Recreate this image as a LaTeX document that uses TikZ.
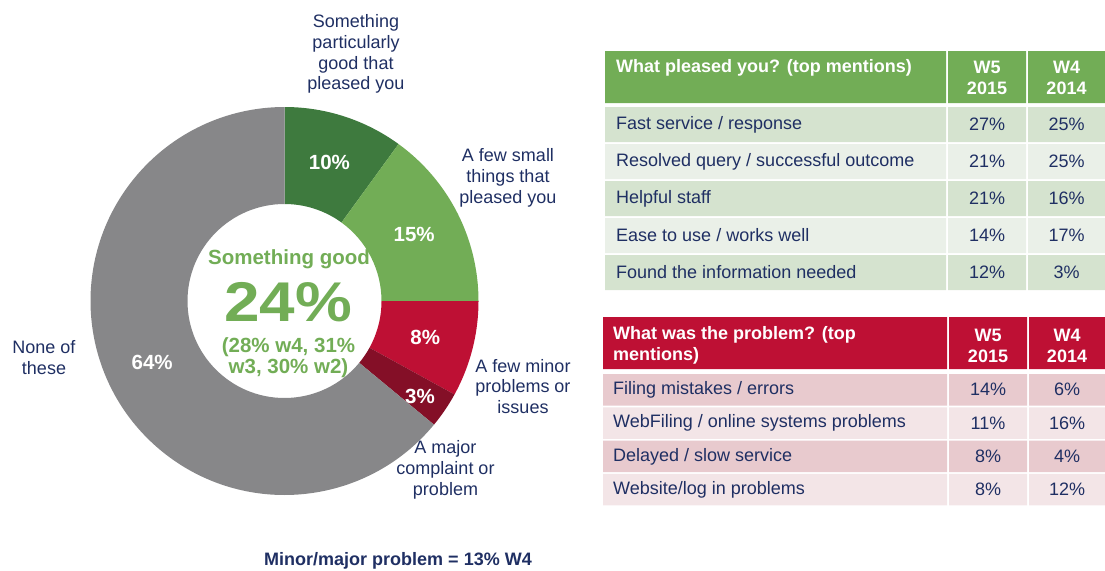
\documentclass[tikz,border=0pt]{standalone}
\usepackage{fontspec}
\setmainfont{Liberation Sans}
\newfontfamily\widefont[FakeStretch=1.14]{Liberation Sans}
\definecolor{navy}{RGB}{31,47,99}
\definecolor{gdark}{RGB}{62,122,62}
\definecolor{glight}{RGB}{114,173,86}
\definecolor{rlight}{RGB}{190,16,52}
\definecolor{rdark}{RGB}{132,15,39}
\definecolor{greyslice}{RGB}{135,135,137}
\definecolor{grow1}{RGB}{213,227,207}
\definecolor{grow2}{RGB}{234,240,232}
\definecolor{rrow1}{RGB}{232,202,206}
\definecolor{rrow2}{RGB}{243,229,231}
\begin{document}
\begin{tikzpicture}[x=1pt,y=-1pt,
    lbl/.style={text=navy,font=\fontsize{18}{20.8}\selectfont,align=center,inner sep=0pt},
    pct/.style={text=white,font=\bfseries\fontsize{20.5}{21}\selectfont,inner sep=0pt},
    good/.style={text=glight,font=\bfseries\fontsize{20.5}{21}\selectfont,align=center,inner sep=0pt},
    cell/.style={text=navy,font=\fontsize{18}{21}\selectfont,inner sep=0pt},
    head/.style={text=white,font=\bfseries\fontsize{18}{21}\selectfont,align=center,inner sep=0pt}]
\useasboundingbox (0,0) rectangle (1105,570);
\coordinate (c) at (284.5,301);
% donut slices, clockwise from the top
\foreach \a/\b/\col in {90/54/gdark, 54/0/glight, 0/-28.8/rlight, -28.8/-39.6/rdark, -39.6/-270/greyslice}
  \fill[\col] ([shift={(\a:194pt)}]c) arc[start angle=\a, end angle=\b, radius=194pt]
    -- ([shift={(\b:97pt)}]c) arc[start angle=\b, end angle=\a, radius=97pt] -- cycle;
\node[pct] (p10) at ([shift={(72:145.5pt)}]c) {10\%};
\node[pct] (p15) at ([shift={(27:145.5pt)}]c) {15\%};
\node[pct] (p8) at ([shift={(-14.6:145.5pt)}]c) {8\%};
\node[pct] (p3) at ([shift={(-35.3:166pt)}]c) {3\%};
\node[pct] (p64) at ([shift={(205:146pt)}]c) {64\%};
% centre text
\node[good] (sg) at (289,259) {Something good};
\node[good,font=\widefont\bfseries\fontsize{56}{60}\selectfont] (sgv) at (288,302) {24\%};
\node[good] (sgw) at (288.5,357.5) {(28\% w4, 31\%\\w3, 30\% w2)};
% slice labels
\node[lbl] (gd) at (356,54) {Something\\particularly\\good that\\pleased you};
\node[lbl] (gs) at (508,178) {A few small\\things that\\pleased you};
\node[lbl] (pm) at (523,386.5) {A few minor\\problems or\\issues};
\node[lbl] (pj) at (445.5,470) {A major\\complaint or\\problem};
\node[lbl] (pn) at (44,357.5) {None of\\these};
\node[lbl,font=\bfseries\fontsize{18}{21}\selectfont] (mm) at (398,560.5) {Minor/major problem = 13\% W4};
% table: what pleased you
\fill[glight] (605,51) rectangle (946,103) (948,51) rectangle (1026,103) (1028,51) rectangle (1105,103);
\node[head,anchor=west] (ph) at (616,68) {What pleased you? (top mentions)};
\node[head] (ph5) at (987,77.5) {W5\\2015};
\node[head] (ph4) at (1066.5,77.5) {W4\\2014};
\foreach \txt/\va/\vb [count=\i] in {{Fast service / response}/27/25,
    {Resolved query / successful outcome}/21/25, {Helpful staff}/21/16,
    {Ease to use / works well}/14/17, {Found the information needed}/12/3}{
  \ifodd\i\relax\def\rowcol{grow1}\else\def\rowcol{grow2}\fi
  \pgfmathsetmacro\rowtop{107+37*(\i-1)}
  \fill[\rowcol] (605,\rowtop) rectangle (946,\rowtop+35) (948,\rowtop) rectangle (1026,\rowtop+35)
    (1028,\rowtop) rectangle (1105,\rowtop+35);
  \node[cell,anchor=west] (pl\i) at (616,\rowtop+17.5) {\txt};
  \node[cell] (pl\i-a) at (987,\rowtop+17.5) {\va\%};
  \node[cell] (pl\i-b) at (1066.5,\rowtop+17.5) {\vb\%};
}
% table: what was the problem
\fill[rlight] (603,317) rectangle (947,369) (949,317) rectangle (1027,369) (1029,317) rectangle (1105,369);
\node[head,align=left,anchor=west] (wh) at (613,345.5) {What was the problem? (top\\mentions)};
\node[head] (wh5) at (988,345.5) {W5\\2015};
\node[head] (wh4) at (1067,345.5) {W4\\2014};
\foreach \txt/\va/\vb [count=\i] in {{Filing mistakes / errors}/14/6,
    {WebFiling / online systems problems}/11/16, {Delayed / slow service}/8/4,
    {Website/log in problems}/8/12}{
  \ifodd\i\relax\def\rowcol{rrow1}\else\def\rowcol{rrow2}\fi
  \pgfmathsetmacro\rowtop{374+33.3*(\i-1)}
  \fill[\rowcol] (603,\rowtop) rectangle (947,\rowtop+31.5) (949,\rowtop) rectangle (1027,\rowtop+31.5)
    (1029,\rowtop) rectangle (1105,\rowtop+31.5);
  \node[cell,anchor=west] (wp\i) at (613,\rowtop+15.75) {\txt};
  \node[cell] (wp\i-a) at (988,\rowtop+15.75) {\va\%};
  \node[cell] (wp\i-b) at (1067,\rowtop+15.75) {\vb\%};
}
\end{tikzpicture}
\end{document}
